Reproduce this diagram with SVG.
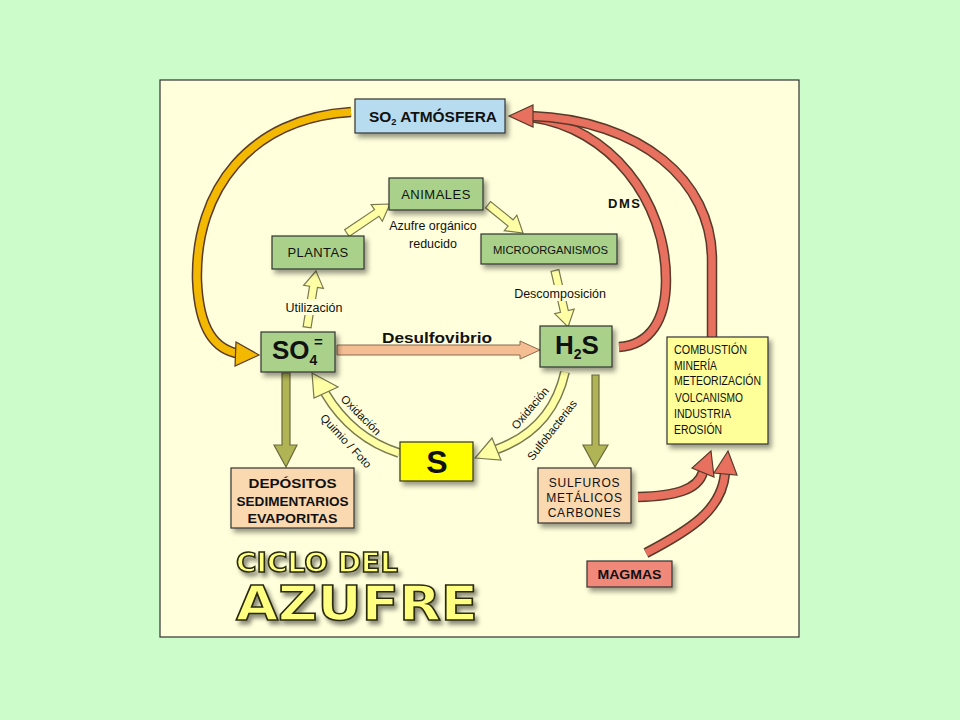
<svg xmlns="http://www.w3.org/2000/svg" width="960" height="720" viewBox="0 0 960 720">
<defs>
<filter id="sh" x="-20%" y="-20%" width="150%" height="160%">
<feDropShadow dx="3" dy="4" stdDeviation="2.5" flood-color="#000" flood-opacity="0.4"/>
</filter>
<filter id="tsh" x="-10%" y="-10%" width="130%" height="140%">
<feDropShadow dx="3" dy="4" stdDeviation="2" flood-color="#000" flood-opacity="0.45"/>
</filter>
<style>
.box{stroke:#333;stroke-width:1.2;filter:url(#sh)}
.g{fill:#a9d18a}
.t{font-family:"Liberation Sans",Arial,sans-serif;fill:#111}
.b{font-weight:bold}
.c{text-anchor:middle}
.ol{fill:none;stroke:#5a3a2a;stroke-width:10.5;stroke-linecap:butt}
.red{fill:none;stroke:#e8705e;stroke-width:7.5}
.gold{fill:none;stroke:#f3b800;stroke-width:7.5}
.olp{fill:none;stroke:#7a7a50;stroke-width:10}
.pale{fill:none;stroke:#ffffa6;stroke-width:7}
.hr{fill:#e8705e;stroke:#5a3a2a;stroke-width:1.2}
.hg{fill:#f3b800;stroke:#5a3a2a;stroke-width:1.2}
.hp{fill:#ffffa6;stroke:#7a7a50;stroke-width:1.2}
.hv{fill:#b1b454;stroke:#6a6a40;stroke-width:1.2}
.title{font-family:"DejaVu Sans",Verdana,sans-serif;font-weight:bold;fill:#ffff80;stroke:#2a2a10;stroke-width:1.5;filter:url(#tsh)}
</style>
</defs>
<rect width="960" height="720" fill="#ccfcca"/>
<rect x="160" y="80" width="639" height="557" fill="#ffffdb" stroke="#333" stroke-width="1.2"/>

<g id="connectors">
<!-- gold arc SO2 -> SO4 -->
<path class="ol" d="M351,112 C 250,118 195,190 197,280 C 199,330 215,350 240,354"/>
<path class="gold" d="M351,112 C 250,118 195,190 197,280 C 199,330 215,350 240,354"/>
<polygon class="hg" points="259,355 236,342 235,366"/>
<!-- red arrows to SO2 -->
<path class="ol" d="M619,347 C 650,345 666,320 666,280 C 666,200 610,128 531,117"/>
<path class="red" d="M619,347 C 650,345 666,320 666,280 C 666,200 610,128 531,117"/>
<path class="ol" d="M712,338 L712,260 C 712,180 640,120 531,116"/>
<path class="red" d="M712,338 L712,260 C 712,180 640,120 531,116"/>
<polygon class="hr" points="509,116 533,105 533,127"/>
<!-- red arrows from SULFUROS and MAGMAS -->
<path class="ol" d="M638,497 C 675,496 698,490 703,472"/>
<path class="red" d="M638,497 C 675,496 698,490 703,472"/>
<polygon class="hr" points="711,451 714,477 692,468"/>
<path class="ol" d="M646,553 C 690,530 722,510 725,473"/>
<path class="red" d="M646,553 C 690,530 722,510 725,473"/>
<polygon class="hr" points="728,451 737,475 714,473"/>
<!-- Desulfovibrio arrow -->
<path d="M337,345 L520,345 L520,341 L540,350 L520,359 L520,355 L337,355 Z" fill="#f5bd92" stroke="#8a6a50" stroke-width="1"/>
<!-- olive down arrows -->
<path class="hv" d="M282,373 L290,373 L290,445 L297,445 L286,467 L274,445 L282,445 Z"/>
<path class="hv" d="M592,375 L599,375 L599,445 L608,445 L595,467 L583,445 L592,445 Z"/>
<!-- pale straight arrows -->
<g transform="translate(390,204) rotate(-34)"><path class="hp" d="M0,0 L-16,-10 L-16,-4 L-52,-4 L-52,4 L-16,4 L-16,10 Z"/></g>
<g transform="translate(523,233) rotate(39)"><path class="hp" d="M0,0 L-16,-10 L-16,-4 L-45,-4 L-45,4 L-16,4 L-16,10 Z"/></g>
<g transform="translate(316,271) rotate(-81)"><path class="hp" d="M0,0 L-16,-10 L-16,-4 L-57,-4 L-57,4 L-16,4 L-16,10 Z"/></g>
<g transform="translate(568,327) rotate(77)"><path class="hp" d="M0,0 L-16,-10 L-16,-4 L-58,-4 L-58,4 L-16,4 L-16,10 Z"/></g>
<!-- pale curved arrows around S -->
<path class="olp" d="M399,453 Q 352,438 325,393"/>
<path class="pale" d="M399,453 Q 352,438 325,393"/>
<polygon class="hp" points="312,373 314,398 338,387"/>
<path class="olp" d="M565,372 Q 552,430 495,450"/>
<path class="pale" d="M565,372 Q 552,430 495,450"/>
<polygon class="hp" points="475,458 501,460 492,438"/>
</g>

<!-- label backgrounds over arrows -->
<rect x="283" y="299" width="63" height="16" fill="#ffffdb"/>
<rect x="511" y="285" width="99" height="16" fill="#ffffdb"/>

<g id="so2">
<rect class="box" x="355" y="99" width="150" height="34" fill="#b7dcef"/>
<text class="t b" x="369" y="122" font-size="15" textLength="128" lengthAdjust="spacingAndGlyphs">SO<tspan font-size="9" dy="3">2</tspan><tspan dy="-3"> ATMÓSFERA</tspan></text>
</g>
<g id="animales">
<rect class="box g" x="389" y="178" width="94" height="32"/>
<text class="t c" x="436" y="199" font-size="13" letter-spacing="0.5">ANIMALES</text>
</g>
<g id="plantas">
<rect class="box g" x="272" y="236" width="92" height="33"/>
<text class="t c" x="318" y="257" font-size="13" letter-spacing="0.4">PLANTAS</text>
</g>
<g id="micro">
<rect class="box g" x="481" y="234" width="136" height="30"/>
<text class="t" x="493" y="253.5" font-size="11.5" textLength="115" lengthAdjust="spacingAndGlyphs">MICROORGANISMOS</text>
</g>
<g id="so4">
<rect class="box g" x="261" y="332" width="74" height="40"/>
<text class="t b" x="272" y="359" font-size="26">SO<tspan font-size="14" dy="6">4</tspan></text>
<text class="t b" x="314" y="347" font-size="15">=</text>
</g>
<g id="h2s">
<rect class="box g" x="540" y="326" width="72" height="41"/>
<text class="t b" x="555" y="354" font-size="26">H<tspan font-size="14" dy="5">2</tspan><tspan dy="-5">S</tspan></text>
</g>
<g id="s">
<rect class="box" x="400" y="442" width="73" height="39" fill="#ffff00"/>
<text class="t b c" x="437" y="473" font-size="32">S</text>
</g>
<g id="depositos">
<rect class="box" x="231" y="468" width="123" height="60" fill="#fad8b0"/>
<text class="t b c" font-size="12.5" x="292.5" y="488" textLength="88" lengthAdjust="spacingAndGlyphs">DEPÓSITOS</text>
<text class="t b c" font-size="12.5" x="292.5" y="506" textLength="112" lengthAdjust="spacingAndGlyphs">SEDIMENTARIOS</text>
<text class="t b c" font-size="12.5" x="292.5" y="523" textLength="90" lengthAdjust="spacingAndGlyphs">EVAPORITAS</text>
</g>
<g id="sulfuros">
<rect class="box" x="538" y="468" width="93" height="55" fill="#fad8b0"/>
<text class="t c" font-size="12" x="584.5" y="487" letter-spacing="0.8">SULFUROS</text>
<text class="t c" font-size="12" x="584.5" y="502" letter-spacing="0.8">METÁLICOS</text>
<text class="t c" font-size="12" x="584.5" y="517" letter-spacing="0.8">CARBONES</text>
</g>
<g id="fuentes">
<rect class="box" x="667" y="337" width="101" height="107" fill="#ffff99"/>
<text class="t" font-size="12" x="674" y="353.5" textLength="73" lengthAdjust="spacingAndGlyphs">COMBUSTIÓN</text>
<text class="t" font-size="12" x="674" y="369.5" textLength="43" lengthAdjust="spacingAndGlyphs">MINERÍA</text>
<text class="t" font-size="12" x="674" y="385" textLength="87" lengthAdjust="spacingAndGlyphs">METEORIZACIÓN</text>
<text class="t" font-size="12" x="675" y="401.5" textLength="68" lengthAdjust="spacingAndGlyphs">VOLCANISMO</text>
<text class="t" font-size="12" x="674" y="417.5" textLength="57" lengthAdjust="spacingAndGlyphs">INDUSTRIA</text>
<text class="t" font-size="12" x="674" y="433.5" textLength="48" lengthAdjust="spacingAndGlyphs">EROSIÓN</text>
</g>
<g id="magmas">
<rect class="box" x="587" y="561" width="85" height="26" fill="#f0897a"/>
<text class="t b c" font-size="12" x="629.5" y="578.5" textLength="64" lengthAdjust="spacingAndGlyphs">MAGMAS</text>
</g>

<g id="labels">
<text class="t b c" x="437" y="343" font-size="15" textLength="110" lengthAdjust="spacingAndGlyphs">Desulfovibrio</text>
<text class="t b" x="608" y="208" font-size="13" letter-spacing="1.5">DMS</text>
<text class="t c" x="433" y="229.5" font-size="12.5">Azufre orgánico</text>
<text class="t c" x="433" y="247.5" font-size="12.5">reducido</text>
<text class="t c" x="314" y="311.5" font-size="12.5">Utilización</text>
<text class="t c" x="560" y="297.5" font-size="12.5">Descomposición</text>
<text class="t c" font-size="11.5" transform="translate(361,415) rotate(45)" y="4">Oxidación</text>
<text class="t c" font-size="11.5" transform="translate(346,441) rotate(47)" y="4">Quimio / Foto</text>
<text class="t c" font-size="11.5" transform="translate(530,408) rotate(-50)" y="4">Oxidación</text>
<text class="t c" font-size="11.5" transform="translate(552,430) rotate(-52)" y="4">Sulfobacterias</text>
</g>

<g id="title">
<text class="title" x="236" y="572" font-size="27" textLength="162" lengthAdjust="spacingAndGlyphs">CICLO DEL</text>
<text class="title" x="236" y="620" font-size="48" textLength="242" lengthAdjust="spacingAndGlyphs">AZUFRE</text>
</g>
</svg>
